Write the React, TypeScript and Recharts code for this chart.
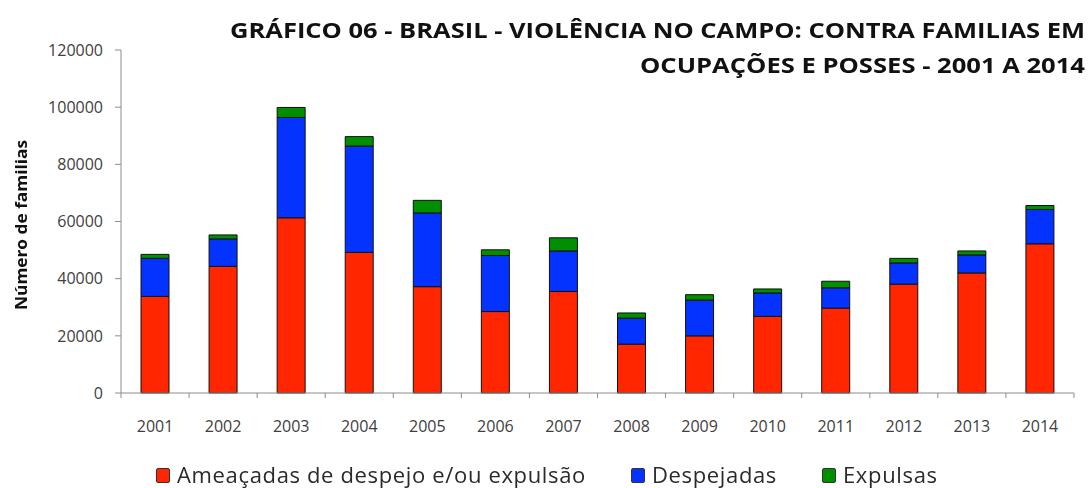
import * as React from "react";
import { BarChart, Bar, XAxis, YAxis, Legend } from "recharts";

const YEARS = ["2001", "2002", "2003", "2004", "2005", "2006", "2007", "2008", "2009", "2010", "2011", "2012", "2013", "2014"];
const AMEACADAS = [33800, 44300, 61300, 49200, 37200, 28500, 35500, 17100, 20000, 26800, 29700, 38100, 42000, 52200];
const DESPEJADAS = [13300, 9600, 35100, 37200, 25800, 19600, 14200, 9100, 12500, 8200, 7100, 7400, 6300, 12000];
const EXPULSAS = [1400, 1400, 3500, 3300, 4400, 2000, 4600, 1800, 1900, 1400, 2300, 1600, 1400, 1400];
const Y_TICKS = [0, 20000, 40000, 60000, 80000, 100000, 120000];

const SERIES = [
  { key: "ameacadas", name: "Ameaçadas de despejo e/ou expulsão", color: "#FF2600" },
  { key: "despejadas", name: "Despejadas", color: "#0433FF" },
  { key: "expulsas", name: "Expulsas", color: "#008F00" },
];

const data = YEARS.map((year, i) => ({
  year,
  ameacadas: AMEACADAS[i],
  despejadas: DESPEJADAS[i],
  expulsas: EXPULSAS[i],
}));

const FONT = "'Open Sans', sans-serif";
const AXIS_COLOR = "#8c8c8c";

// category label plus Excel-style tick marks between categories
const YearTick = (props: any) => {
  const { x, y, payload, index, visibleTicksCount } = props;
  const half = payload.offset || 0;
  const axisY = y - 26;
  return (
    <g>
      <line x1={x - half} x2={x - half} y1={axisY} y2={axisY + 5} stroke={AXIS_COLOR} />
      {index === visibleTicksCount - 1 && (
        <line x1={x + half} x2={x + half} y1={axisY} y2={axisY + 5} stroke={AXIS_COLOR} />
      )}
      <text x={x} y={y} dy={12.5} textAnchor="middle" fill="#404040" fontSize={16} fontFamily={FONT}>
        {payload.value}
      </text>
    </g>
  );
};

const LegendContent = () => (
  <div
    style={{
      display: "flex",
      alignItems: "center",
      fontFamily: FONT,
      fontSize: 22,
      letterSpacing: 0.65,
      color: "#2a2a2a",
      whiteSpace: "nowrap",
    }}
  >
    {SERIES.map((s, i) => (
      <div key={s.key} style={{ display: "flex", alignItems: "center", marginRight: i < SERIES.length - 1 ? 45 : 0 }}>
        <span
          style={{
            display: "inline-block",
            width: 12,
            height: 13,
            background: s.color,
            border: "1px solid #333",
            borderRadius: 2,
            marginRight: 7,
            marginTop: 2,
          }}
        />
        <span>{s.name}</span>
      </div>
    ))}
  </div>
);

export default function App() {
  return (
    <div style={{ position: "fixed", top: 0, left: 0, width: 1091, height: 488, background: "#fff" }}>
      <BarChart
        width={1091}
        height={488}
        data={data}
        margin={{ top: 50, right: 17, bottom: 65, left: 61 }}
        barSize={28}
      >
        <XAxis
          dataKey="year"
          axisLine={{ stroke: AXIS_COLOR }}
          tickLine={false}
          tickSize={5}
          tickMargin={21}
          interval={0}
          tick={<YearTick />}
        />
        <YAxis
          width={60}
          domain={[0, 120000]}
          ticks={Y_TICKS}
          interval={0}
          axisLine={{ stroke: AXIS_COLOR }}
          tickLine={{ stroke: AXIS_COLOR }}
          tickSize={6}
          tickMargin={12}
          tick={{ fill: "#404040", fontSize: 16, fontFamily: FONT }}
        />
        {SERIES.map((s) => (
          <Bar
            key={s.key}
            dataKey={s.key}
            name={s.name}
            stackId="a"
            fill={s.color}
            stroke="#111"
            strokeWidth={1}
            isAnimationActive={false}
          />
        ))}
        <Legend
          layout="horizontal"
          verticalAlign="middle"
          align="center"
          content={<LegendContent />}
          wrapperStyle={{ top: 459, left: 156, width: "auto" }}
        />
      </BarChart>
      <svg
        width={1091}
        height={488}
        style={{ position: "absolute", top: 0, left: 0, pointerEvents: "none" }}
      >
        <text
          x={1085}
          y={38}
          textAnchor="end"
          fontFamily={FONT}
          fontWeight={700}
          fontSize={22}
          fill="#111"
          textLength={855}
          lengthAdjust="spacingAndGlyphs"
        >
          GRÁFICO 06 - BRASIL - VIOLÊNCIA NO CAMPO: CONTRA FAMILIAS EM
        </text>
        <text
          x={1085}
          y={73}
          textAnchor="end"
          fontFamily={FONT}
          fontWeight={700}
          fontSize={22}
          fill="#111"
          textLength={445}
          lengthAdjust="spacingAndGlyphs"
        >
          OCUPAÇÕES E POSSES - 2001 A 2014
        </text>
        <text
          x={0}
          y={0}
          transform="translate(27 225) rotate(-90)"
          textAnchor="middle"
          fontFamily={FONT}
          fontWeight={700}
          fontSize={16}
          fill="#111"
          textLength={170}
          lengthAdjust="spacingAndGlyphs"
        >
          Número de familias
        </text>
      </svg>
    </div>
  );
}
